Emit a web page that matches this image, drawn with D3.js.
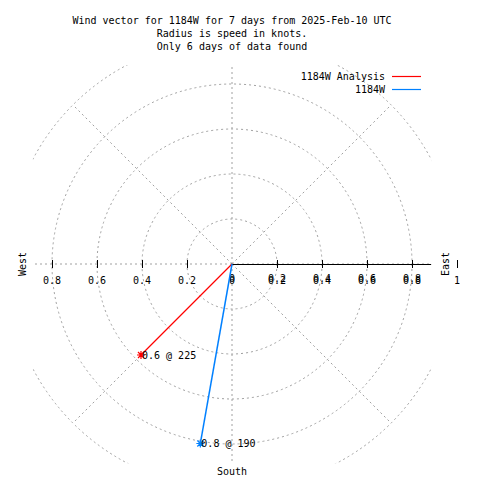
<!DOCTYPE html>
<html><head><meta charset="utf-8">
<script src="https://cdn.jsdelivr.net/npm/d3@7"></script>
<style>body{margin:0;background:#fff}svg{display:block}text{font-family:"DejaVu Sans Mono",monospace;font-size:10px;fill:#000}</style>
</head><body>
<script>
const titleLines = ["Wind vector for 1184W for 7 days from 2025-Feb-10 UTC","Radius is speed in knots.","Only 6 days of data found"];
const seriesNames = ["1184W Analysis","1184W"];
const seriesColors = ["#ff0000","#0080ff"];
const speeds = [0.572, 0.81];
const directions = [225, 190];
const gridRadii = [0.2,0.4,0.6,0.8,1.0];
const spokeAngles = [0,45,90,135,180,225,270,315];
const xTicks = [-0.8,-0.6,-0.4,-0.2,0,0.2,0.4,0.6,0.8,1];

const W=480,H=480,cx=232,cy=264,R=225,rMaxVal=0.885;
const svg=d3.select("body").append("svg").attr("width",W).attr("height",H);
const r=d3.scaleLinear().domain([0,1]).range([0,R]);
const x=d3.scaleLinear().domain([-1,1]).range([cx-R,cx+R]);
const lim=r(rMaxVal);
svg.append("clipPath").attr("id","plotclip").append("rect")
  .attr("x",cx-lim).attr("y",cy-lim).attr("width",2*lim).attr("height",2*lim);

// titles
svg.selectAll("text.title").data(titleLines).join("text").attr("class","title")
  .attr("x",cx).attr("y",(d,i)=>24+i*13).attr("text-anchor","middle").text(d=>d);

const g=svg.append("g").attr("clip-path","url(#plotclip)");
const gridStyle=s=>s.attr("fill","none").attr("stroke","#a0a0a0").attr("stroke-width",1).attr("stroke-dasharray","2,3");
g.selectAll("circle.grid").data(gridRadii).join("circle").attr("class","grid")
  .attr("cx",cx).attr("cy",cy).attr("r",d=>r(d)).call(gridStyle);
g.selectAll("line.spoke").data(spokeAngles).join("line").attr("class","spoke")
  .attr("x1",cx).attr("y1",cy)
  .attr("x2",d=>cx+r(1)*Math.cos(d*Math.PI/180))
  .attr("y2",d=>cy-r(1)*Math.sin(d*Math.PI/180)).call(gridStyle);

// axis (right side solid)
svg.append("line").attr("x1",cx).attr("y1",cy+0.5).attr("x2",cx+lim).attr("y2",cy+0.5)
  .attr("stroke","#000").attr("stroke-width",1);
// ticks
svg.selectAll("line.tick").data(xTicks.filter(d=>d!==0)).join("line").attr("class","tick")
  .attr("x1",d=>Math.round(x(d))+0.5).attr("x2",d=>Math.round(x(d))+0.5)
  .attr("y1",cy-4).attr("y2",cy+4).attr("stroke","#000").attr("stroke-width",1);
// tick labels (x-axis labels and, overlapping on the right, the radial-axis labels)
const fmt=d=>d===0?"0":(d===1?"1":d3.format(".1f")(Math.abs(d)));
svg.selectAll("text.tl").data(xTicks).join("text").attr("class","tl")
  .attr("x",d=>x(d)).attr("y",284).attr("text-anchor","middle").text(fmt);
svg.selectAll("text.tl2").data(xTicks.filter(d=>d>=0&&d<1)).join("text").attr("class","tl2")
  .attr("x",d=>x(d)).attr("y",282).attr("text-anchor","middle").text(fmt);

// direction labels
svg.append("text").attr("transform",`translate(26,${cy}) rotate(-90)`).attr("text-anchor","middle").text("West");
svg.append("text").attr("transform",`translate(449,${cy}) rotate(-90)`).attr("text-anchor","middle").text("East");
svg.append("text").attr("x",cx).attr("y",475).attr("text-anchor","middle").text("South");

// vectors
const px=(s,a)=>cx+r(s)*Math.sin(a*Math.PI/180);
const py=(s,a)=>cy-r(s)*Math.cos(a*Math.PI/180);
const data=speeds.map((s,i)=>({s,a:directions[i],c:seriesColors[i],w:i===1?1.5:1.2}));
svg.selectAll("line.vec").data(data).join("line").attr("class","vec")
  .attr("x1",cx).attr("y1",cy).attr("x2",d=>px(d.s,d.a)).attr("y2",d=>py(d.s,d.a))
  .attr("stroke",d=>d.c).attr("stroke-width",d=>d.w);
const star=svg.selectAll("g.star").data(data).join("g").attr("class","star")
  .attr("transform",d=>`translate(${px(d.s,d.a)},${py(d.s,d.a)})`);
star.append("path").attr("d","M-4,0H4M0,-4V4M-3,-3L3,3M-3,3L3,-3").attr("stroke",d=>d.c).attr("stroke-width",1.2);
svg.selectAll("text.vl").data(data).join("text").attr("class","vl")
  .attr("x",d=>px(d.s,d.a)+1).attr("y",d=>py(d.s,d.a)+3.5)
  .text(d=>`${d3.format(".1f")(d.s)} @ ${d.a}`);

// legend
seriesNames.forEach((n,i)=>{
  const y=76+i*13;
  svg.append("text").attr("x",385).attr("y",y+4).attr("text-anchor","end").text(n);
  svg.append("line").attr("x1",392).attr("x2",421).attr("y1",y+0.5).attr("y2",y+0.5)
    .attr("stroke",seriesColors[i]).attr("stroke-width",1.2);
});
</script>
</body></html>
